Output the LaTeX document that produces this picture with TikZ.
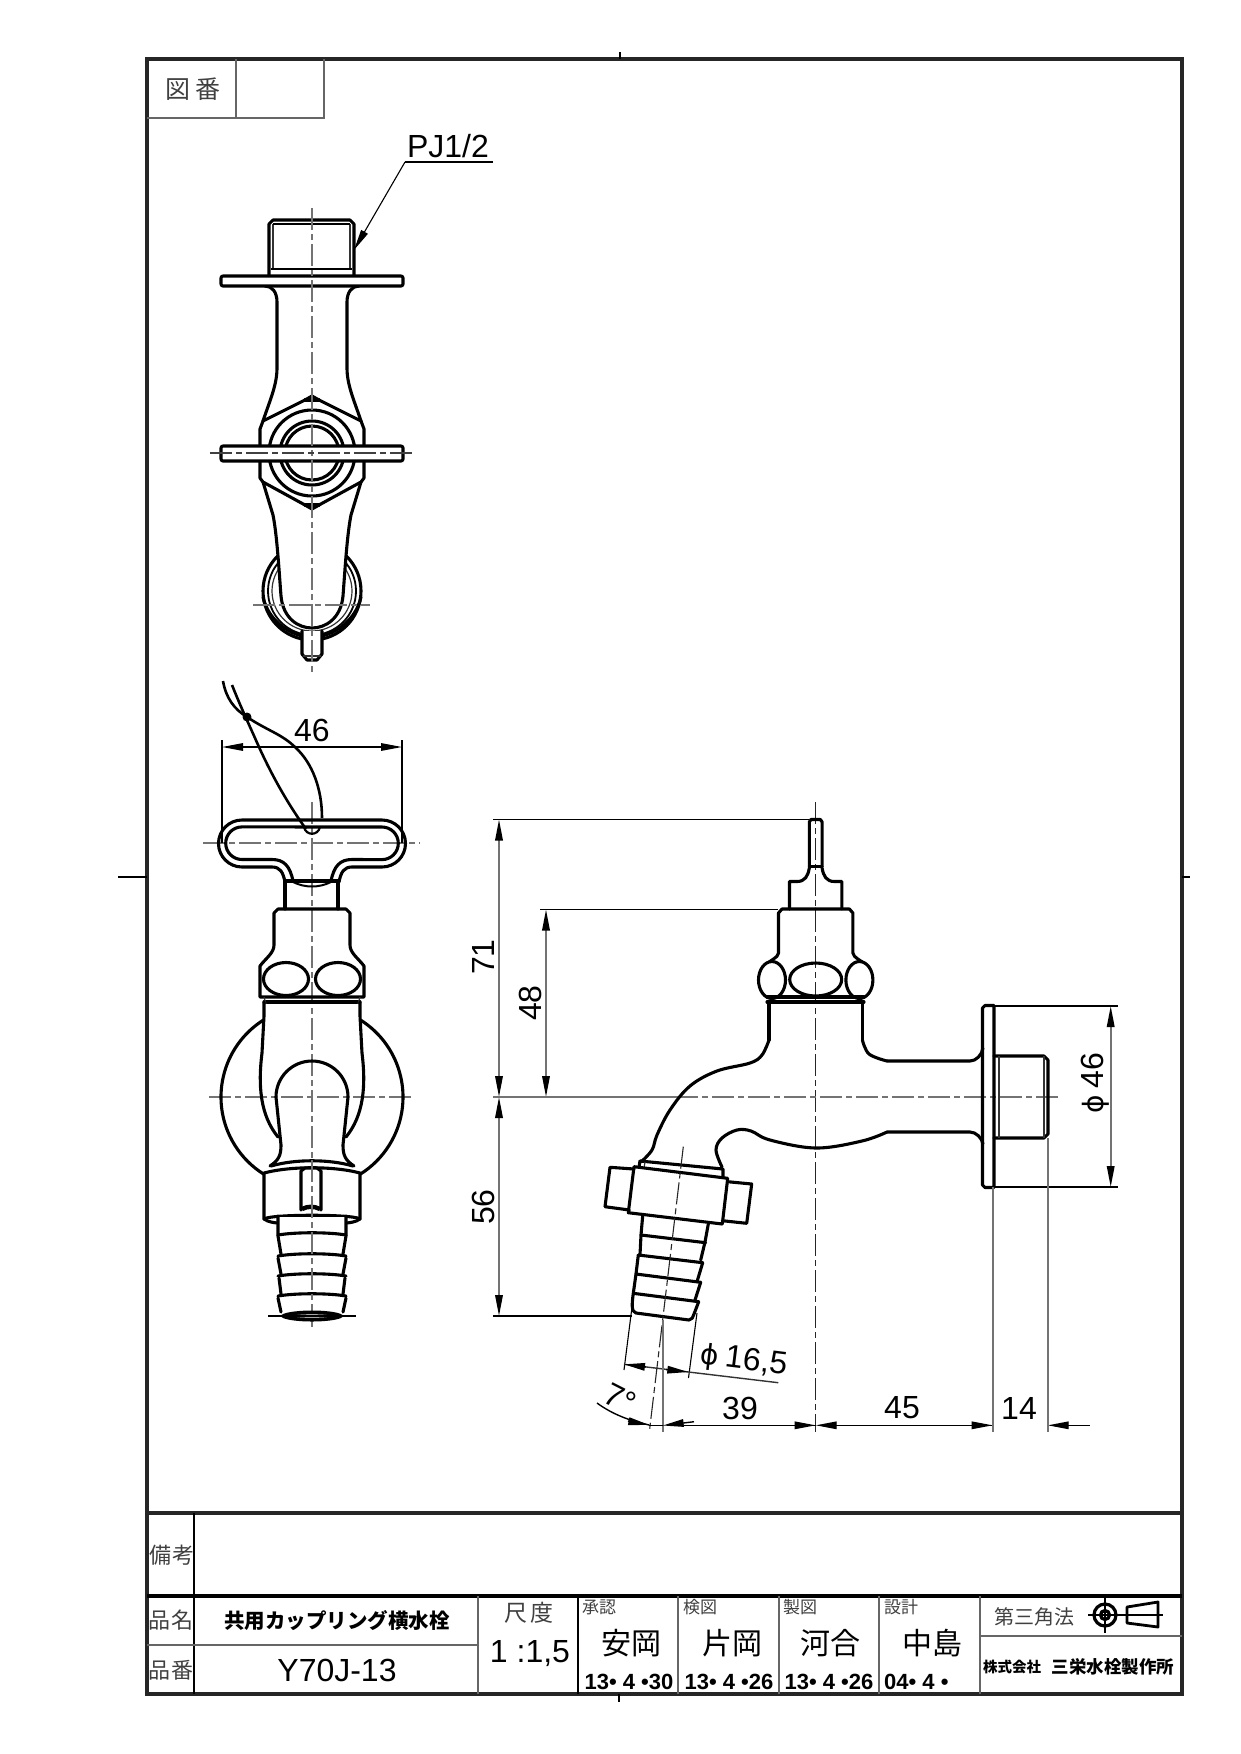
\documentclass[tikz,border=0pt]{standalone}
\usepackage{fontspec}
\setmainfont{Liberation Sans}
\newfontfamily\cjk{Noto Sans CJK JP}
\newfontfamily\djv{DejaVu Sans}
\usetikzlibrary{arrows.meta}
\newcommand{\fsz}[1]{\fontsize{#1}{#1}\selectfont}
\tikzset{
  obj/.style={line width=3.1pt,black,line join=round,line cap=round},
  objw/.style={obj,fill=white},
  thinobj/.style={line width=1.2pt,black!80},
  ctr/.style={line width=1.5pt,black!55,dash pattern=on 22pt off 4pt on 6pt off 4pt},
  ctrk/.style={line width=1.1pt,black!85,dash pattern=on 22pt off 4pt on 6pt off 4pt},
  dimh/.style={line width=1.4pt,black},
  dimv/.style={line width=1.8pt,black!55},
  both/.style={{Stealth[length=21pt,width=7.5pt,inset=0pt,black]}-{Stealth[length=21pt,width=7.5pt,inset=0pt,black]}},
  endtip/.style={-{Stealth[length=21pt,width=7.5pt,inset=0pt,black]}},
  tip/.style={{Stealth[length=21pt,width=7.5pt,inset=0pt,black]}-},
  frm/.style={line width=3.4pt,black!85},
  row/.style={line width=1.9pt,black!60},
  dimtxt/.style={inner sep=0pt,font=\fsz{32}},
  lbl/.style={inner sep=0pt,font=\cjk\fsz{22},black!75},
  small/.style={inner sep=0pt,font=\cjk\fsz{17},black!75},
  nm/.style={inner sep=0pt,font=\cjk\fsz{30}},
  dt/.style={inner sep=0pt,font=\bfseries\fsz{22}},
  noMir/.style={},
  mirA/.style={xshift=624pt,xscale=-1},
  mirB/.style={xshift=1631.4pt,xscale=-1}
}
\begin{document}
\begin{tikzpicture}[x=1pt,y=-1pt]
\useasboundingbox (0,0) rectangle (1240,1754);
% ---------- sheet ----------
\draw[frm] (147,59) rectangle (1182,1694);
\draw[line width=3.4pt,black!85] (147,1513) -- (1182,1513);
\draw[line width=4.2pt,black] (147,1596) -- (1182,1596);
\draw[row,black] (194,1513) -- (194,1694);
\draw[row] (147,1645) -- (478,1645);
\draw[row] (478,1596) -- (478,1694);
\draw[row,black] (578,1596) -- (578,1694);
\draw[row] (678,1596) -- (678,1694);
\draw[row] (779,1596) -- (779,1694);
\draw[row] (879,1596) -- (879,1694);
\draw[row] (980,1596) -- (980,1694);
\draw[row] (980,1636) -- (1182,1636);
\draw[row] (236,59) -- (236,118);
\draw[row] (147,118) -- (324,118) -- (324,59);
% crop marks
\draw[line width=1.2pt] (620,52) -- (620,59);
\draw[line width=1.2pt] (118,877) -- (147,877);
\draw[line width=1.2pt] (1182,877) -- (1190,877);
\draw[line width=1.2pt] (619,1694) -- (619,1702);
% sheet texts
\node[lbl,font=\cjk\fsz{25}] (zuban) at (193,89) {図\kern5pt番};
\node[lbl] (biko) at (172,1555) {備\kern2pt考};
\node[lbl] (hinmei) at (171,1620) {品\kern2pt名};
\node[lbl] (hinban) at (171,1670) {品\kern2pt番};
\node[inner sep=0pt,font=\cjk\bfseries\fsz{20.5}] (name) at (337,1621) {共用カップリング横水栓};
\node[inner sep=0pt,font=\fsz{32}] (code) at (337,1670) {Y70J-13};
\node[lbl,font=\cjk\fsz{23}] (shakudo) at (529,1613) {尺\kern3pt度};
\node[inner sep=0pt,font=\fsz{32}] (scale) at (530,1654) {1 :1,5};
\node[small,anchor=west] (shonin) at (582,1607) {承認};
\node[small,anchor=west] (kenzu) at (683,1607) {検図};
\node[small,anchor=west] (seizu) at (783,1607) {製図};
\node[small,anchor=west] (sekkei) at (884,1607) {設計};
\node[nm] (n1) at (631,1643) {安岡};
\node[nm] (n2) at (732,1643) {片岡};
\node[nm] (n3) at (830,1643) {河合};
\node[nm] (n4) at (932,1643) {中島};
\node[dt] (d1) at (629,1682) {13• 4 •30};
\node[dt] (d2) at (729,1682) {13• 4 •26};
\node[dt] (d3) at (829,1682) {13• 4 •26};
\node[dt,anchor=west] (d4) at (884,1682) {04• 4 •};
\node[lbl,font=\cjk\fsz{20}] (third) at (1034,1617) {第三角法};
\node[inner sep=0pt,font=\cjk\bfseries\fsz{14.5}] (co1) at (1012,1667) {株式会社};
\node[inner sep=0pt,font=\cjk\bfseries\fsz{17.5}] (co2) at (1113,1667) {三栄水栓製作所};
% third-angle symbol
\draw[line width=3.2pt] (1105,1615) circle (11);
\draw[line width=3.2pt] (1105,1615) circle (4.5);
\draw[line width=1.4pt] (1088,1615) -- (1163,1615);
\draw[line width=1.4pt] (1105,1597) -- (1105,1633);
\draw[line width=2.8pt,line join=round] (1127,1607) -- (1158,1602) -- (1158,1627) -- (1127,1623) -- cycle;

% ---------- top view ----------
\draw[obj] (312,591) circle (49);
\draw[line width=1.8pt] (312,591) circle (44);
\draw[thinobj] (312,591) circle (40);
\draw[obj] (263,597) .. controls (268,620) and (290,637) .. (312,637) .. controls (334,637) and (356,620) .. (361,597);
\draw[objw] (263,482) -- (273,515) .. controls (277,535) and (279,570) .. (281,596) .. controls (283,618) and (298,628) .. (312,628) .. controls (326,628) and (341,618) .. (343,596) .. controls (345,570) and (347,535) .. (351,515) -- (361,482);
\draw[objw] (302,631) -- (302,654) -- (307,660) -- (317,660) -- (322,654) -- (322,631);
\draw[thinobj] (303,656) -- (321,656);
\draw[obj] (265,286) .. controls (272,286) and (277,292) .. (277,302) -- (277,368) .. controls (277,385) and (270,400) .. (263,421);
\draw[obj] (359,286) .. controls (352,286) and (347,292) .. (347,302) -- (347,368) .. controls (347,385) and (354,400) .. (361,421);
\draw[objw] (305,400) -- (312,396) -- (319,400) -- (361,421) -- (364,429) -- (364,478) -- (361,482) -- (319,505) -- (312,509) -- (305,505) -- (263,482) -- (260,478) -- (260,429) -- (263,421) -- cycle;
\draw[obj] (305,400) -- (319,400);
\draw[obj] (305,505) -- (319,505);
\draw[obj] (312,453) circle (43);
\draw[obj] (312,453) circle (32);
\draw[obj] (312,453) circle (27);
\draw[objw,rounded corners=2pt] (221,446) rectangle (403,461);
\draw[objw] (269,276) -- (269,224) -- (273,220) -- (350,220) -- (354,224) -- (354,276);
\draw[thinobj] (273,224) -- (273,270);
\draw[thinobj] (350,224) -- (350,270);
\draw[line width=1.8pt] (273,224) -- (350,224);
\draw[line width=2.4pt] (271,269) -- (352,269);
\draw[objw,rounded corners=2pt] (221,276) rectangle (403,286);
\draw[ctr] (312,208) -- (312,675);
\draw[line width=1.2pt,black!75,dash pattern=on 22pt off 4pt on 6pt off 4pt] (210,453) -- (415,453);
\draw[ctr,line width=1.2pt] (253,605) -- (370,605);
% PJ1/2
\node[inner sep=0pt,font=\fsz{32},anchor=base] (pj) at (448,157) {PJ1/2};
\coordinate (pjk) at (405,162);
\coordinate (pjt) at (354,250);
\draw[line width=1.4pt] (493,162) -- (pjk);
\draw[line width=1.1pt,endtip] (pjk) -- (pjt);

% ---------- front view ----------
\draw[ctr] (312,802) -- (312,1327);
\draw[ctr] (203,843) -- (420,843);
\draw[ctr] (209,1097) -- (414,1097);
% wire
\draw[line width=2.6pt] (223,681) .. controls (226,698) and (234,709) .. (247,717) .. controls (268,731) and (282,734) .. (296,748) .. controls (312,763) and (322,788) .. (322,818);
\draw[line width=2.6pt] (232,685) .. controls (240,705) and (246,718) .. (255,738) .. controls (268,768) and (285,800) .. (306,829);
\fill (247,717) circle (4.5);
% 46
\draw[dimh] (222,740) -- (222,843);
\draw[dimh] (402,740) -- (402,843);
\draw[dimh,both] (222,747) -- (402,747);
\node[dimtxt] (d46) at (312,730) {46};
% handle
\draw[obj] (285,882) .. controls (283,872) and (280,867) .. (272,867) -- (242,867) arc (90:270:23.5) -- (382,820) arc (-90:90:23.5) -- (352,867) .. controls (344,867) and (341,872) .. (339,882);
\draw[obj] (293,881) .. controls (290,866) and (284,859.5) .. (272,859.5) -- (242,859.5) arc (90:270:16.3) -- (382,827) arc (-90:90:16.3) -- (352,859.5) .. controls (340,859.5) and (334,866) .. (331,881);
\draw[obj,line width=2.2pt] (304,827) .. controls (306,836) and (318,836) .. (320,827);
\draw[obj] (285,881) -- (339,881);
\draw[obj,line width=2pt] (293,882) .. controls (305,888) and (319,888) .. (331,882);
\draw[obj] (285,881) -- (285,909);
\draw[obj] (338,881) -- (338,909);
% cap
\draw[obj] (274,945) -- (274,913) -- (278,909) -- (346,909) -- (350,913) -- (350,945) .. controls (350,953) and (358,958) .. (364,966) -- (364,997) -- (260,997) -- (260,966) .. controls (266,958) and (274,953) .. (274,945);
\draw[obj] (286,979) ellipse (22.5 and 16.5);
\draw[obj] (338,979) ellipse (22.5 and 16.5);
\draw[obj] (264,1002) -- (360,1002);
\draw[thinobj] (264,997) -- (266,1004);
\draw[thinobj] (358,1004) -- (360,997);
% big circle
\draw[obj] ([shift={(312,1097)}]238:91) arc (238:122:91);
\draw[obj] ([shift={(312,1097)}]-58:91) arc (-58:58:91);
% body
\foreach \m in {noMir,mirA}{
\begin{scope}[\m]
\draw[obj] (264,1002) -- (264,1016) -- (262,1053) .. controls (258,1085) and (260,1115) .. (278,1137);
\draw[obj] (270,1166) .. controls (279,1160) and (281,1155) .. (281,1145) -- (276,1097);
\end{scope}}
\draw[obj] (276,1097) arc (180:360:36);
\draw[obj] (271,1166) .. controls (295,1159) and (329,1159) .. (353,1166);
% nut
\draw[objw] (264,1173) .. controls (290,1166) and (334,1166) .. (360,1173) -- (360,1219) .. controls (356,1222) and (349,1223) .. (345,1223) -- (279,1223) .. controls (275,1223) and (268,1222) .. (264,1219) -- cycle;
\draw[obj] (264,1219) .. controls (270,1214) and (354,1214) .. (360,1219);
\draw[objw] (301,1210) -- (301,1171) -- (305,1168) -- (317,1168) -- (321,1171) -- (321,1210);
\draw[line width=4.4pt] (302,1209) .. controls (308,1206) and (314,1206) .. (320,1209);
% barb
\fill[white] (279,1217) rectangle (345,1312);
\foreach \m in {noMir,mirA}{
\begin{scope}[\m]
\draw[obj] (278,1216) -- (278,1236) -- (281,1254);
\draw[obj] (278,1258) -- (281,1274);
\draw[obj] (279,1278) -- (281,1294);
\draw[obj] (278,1298) -- (281,1312);
\end{scope}}
\foreach \yy in {1235,1256,1276,1296}{
\draw[obj] (278,\yy) .. controls (295,\yy-3) and (329,\yy-3) .. (346,\yy);
}
\draw[ctr] (312,1160) -- (312,1327);
\fill[black] (312,1316) ellipse (31 and 5.5);
\fill[white] (312,1316) ellipse (19 and 1.6);
\draw[dimh] (268,1316) -- (356,1316);

% ---------- side view ----------
\draw[ctrk] (815.7,802) -- (815.7,1432);
% vertical dims
\draw[dimh] (493,819.5) -- (809,819.5);
\draw[dimh] (540,909.5) -- (778,909.5);
\draw[dimv,both] (499,819.5) -- (499,1097);
\draw[dimv,both] (546,909.5) -- (546,1097);
\draw[dimv,both] (499,1097) -- (499,1316);
\draw[dimh] (493,1316) -- (632,1316);
\draw[dimv] (493,1097) -- (676,1097);
\draw[ctr] (676,1097) -- (1060,1097);
\node[dimtxt,rotate=90] (d71) at (483,957) {71};
\node[dimtxt,rotate=90] (d48) at (530,1003) {48};
\node[dimtxt,rotate=90] (d56) at (483,1207) {56};
% stem
\foreach \m in {noMir,mirB}{
\begin{scope}[\m]
\draw[obj] (809.3,867) -- (809.3,822) -- (811,819.5) -- (815.7,819.5);
\draw[obj] (809.3,868) .. controls (808,876) and (805,881.5) .. (797,881.5) -- (789.5,881.5) -- (789.5,909);
\draw[obj] (815.7,909) -- (782,909) -- (778.5,913) -- (778.5,953) .. controls (778,958) and (770,960) .. (766,965);
\draw[obj] (769,1002) -- (769,1040);
\end{scope}}
\draw[obj] (809.3,866.5) -- (822.1,866.5);
\draw[objw] (772,980) ellipse (13.5 and 18.5);
\draw[objw] (859.4,980) ellipse (13.5 and 18.5);
\draw[obj] (815.7,979.5) ellipse (26 and 16.5);
\draw[obj] (767,997) -- (864,997);
\draw[obj] (767,1002) -- (864,1002);
% spout
\draw[obj] plot[smooth,tension=.6] coordinates {(769,1040) (762,1055) (750,1063) (717,1071) (690,1086) (670,1110) (657,1135) (652,1150) (641,1162)};
\draw[obj] plot[smooth,tension=.6] coordinates {(862.4,1040) (869,1054) (887,1061)};
\draw[obj] (887,1061) -- (970,1061) .. controls (976,1061) and (982,1055) .. (983,1048);
\draw[obj] (983,1144) .. controls (982,1138) and (976,1132) .. (970,1132) -- (887,1132);
\draw[obj] plot[smooth,tension=.6] coordinates {(887,1132) (862,1141) (816,1148) (770,1140) (751,1131) (737,1130) (722,1138) (716,1150) (722,1167)};
% flange and thread
\draw[obj] (994,1005.5) -- (985,1005.5) -- (982.5,1008) -- (982.5,1185) -- (985,1187.5) -- (994,1187.5) -- cycle;
\draw[obj] (994,1056) -- (1044,1056) -- (1048,1060) -- (1048,1134) -- (1044,1138) -- (994,1138);
\draw[thinobj,line width=2pt] (998.5,1056) -- (998.5,1138);
\draw[thinobj,line width=2pt] (1044,1056) -- (1044,1138);
% phi 46
\draw[dimh] (994,1006) -- (1118,1006);
\draw[dimh] (994,1187) -- (1118,1187);
\draw[dimv,both] (1110.7,1006) -- (1110.7,1187);
\node[dimtxt,rotate=90] (p46) at (1095,1083) {{\djv\fsz{28}ϕ}\kern6pt 46};
% nozzle
\draw[obj] (640,1161) -- (723,1169) -- (723,1178);
\draw[obj] (640,1161) -- (639,1167);
\draw[thinobj] (645,1162) -- (644,1168);
\draw[objw] (634,1166.7) -- (727.7,1178.3) -- (722.3,1224) -- (628.3,1212.7) -- cycle;
\draw[obj] (634,1169) -- (610,1167.3) -- (605,1206.7) -- (629.3,1210);
\draw[obj] (727.7,1181.7) -- (751.7,1184) -- (746.7,1223.3) -- (722.3,1220.7);
\draw[obj] (642.7,1215.7) -- (641,1235) -- (640,1255);
\draw[obj] (708.3,1224) -- (705,1242) -- (700.7,1260);
\draw[obj] (641,1235) -- (705.7,1242.7);
\draw[obj] (638.3,1255) -- (702.7,1262.7);
\draw[obj] (636,1274) -- (700.7,1282.3);
\draw[obj] (633.3,1293.3) -- (698.7,1301.7);
\draw[obj] (638.3,1255) -- (636,1274) -- (633.3,1293.3) .. controls (632,1303) and (631,1312) .. (636,1313) -- (689,1320) .. controls (692,1320) and (693,1317) .. (694,1314) -- (698.7,1301.7);
\draw[obj] (702.7,1262.7) -- (697.3,1280.7);
\draw[obj] (700.7,1282.3) -- (695,1300);
\draw[ctrk] (683.3,1146.7) -- (649.3,1432);
% phi 16,5 and 7 degrees
\draw[line width=1.1pt] (632,1307) -- (624,1370);
\draw[line width=1.1pt] (697,1313) -- (688.5,1378);
\draw[dimh,black!80] (624,1364.3) -- (778.3,1382.7);
\draw[dimh,endtip] (646,1367) -- (624,1364.3);
\draw[dimh,endtip] (666,1369.5) -- (688.3,1372);
\node[inner sep=0pt,rotate=-7] (p16) at (744,1361) {{\djv\fsz{28}ϕ}\kern6pt\fsz{32}16,5};
\draw[dimh] (597,1403) .. controls (612,1414) and (630,1421) .. (649.3,1425);
\draw[dimh,endtip] (628,1421) -- (649.3,1425);
\node[dimtxt,rotate=-27] (a7) at (620,1398) {7°};
\draw[dimv] (662.7,1320) -- (662.7,1432);
\draw[dimh] (649.3,1425.5) -- (662.7,1425.5);
\draw[dimh,tip] (662.7,1425.5) -- (694,1421.7);
\draw[dimh] (684,1425.3) -- (815.7,1425.3);
\draw[dimh,endtip] (795,1425.3) -- (815.7,1425.3);
\draw[dimh,tip] (815.7,1425.3) -- (992.7,1425.3);
\draw[dimh,endtip] (972,1425.3) -- (992.7,1425.3);
\draw[dimh,tip] (1047.7,1425.3) -- (1090,1425.3);
\draw[dimv] (993,1187) -- (993,1432);
\draw[dimv] (1047.7,1138) -- (1047.7,1432);
\node[dimtxt] (d39) at (740,1408) {39};
\node[dimtxt] (d45) at (902,1408) {45};
\node[dimtxt] (d14) at (1019,1408) {14};
\end{tikzpicture}
\end{document}
